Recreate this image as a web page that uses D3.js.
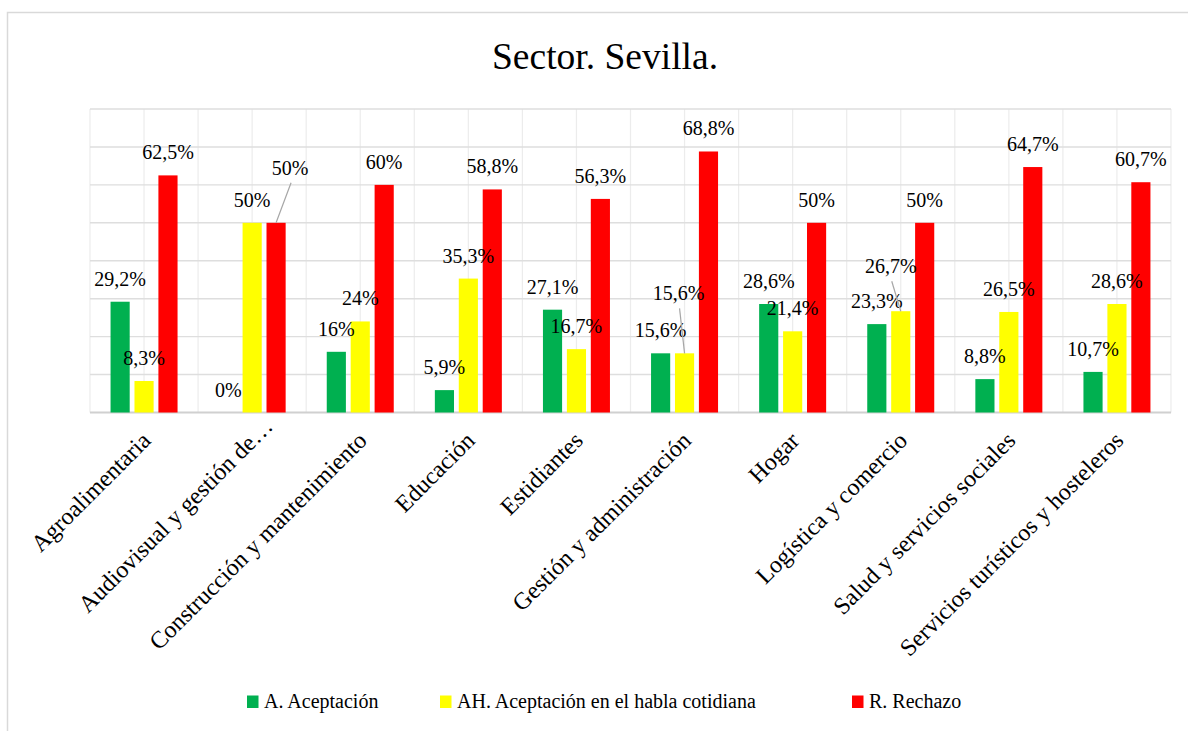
<!DOCTYPE html>
<html>
<head>
<meta charset="utf-8">
<script src="https://cdn.jsdelivr.net/npm/d3@7"></script>
<style>
  html, body { margin: 0; padding: 0; background: #fff; }
  svg { display: block; }
</style>
</head>
<body>
<svg id="chart" width="1188" height="731"></svg>
<script>
const title = "Sector. Sevilla.";
const categories = [
  "Agroalimentaria",
  "Audiovisual y gestión de…",
  "Construcción y mantenimiento",
  "Educación",
  "Estidiantes",
  "Gestión y administración",
  "Hogar",
  "Logística y comercio",
  "Salud y servicios sociales",
  "Servicios turísticos y hosteleros"
];
const seriesNames = ["A. Aceptación", "AH. Aceptación en el habla cotidiana", "R. Rechazo"];
const seriesColors = ["#00B050", "#FFFF00", "#FF0000"];
const aceptacion = [29.2, 0, 16, 5.9, 27.1, 15.6, 28.6, 23.3, 8.8, 10.7];
const hablaCotidiana = [8.3, 50, 24, 35.3, 16.7, 15.6, 21.4, 26.7, 26.5, 28.6];
const rechazo = [62.5, 50, 60, 58.8, 56.3, 68.8, 50, 50, 64.7, 60.7];
const labelText = [
  ["29,2%", "0%", "16%", "5,9%", "27,1%", "15,6%", "28,6%", "23,3%", "8,8%", "10,7%"],
  ["8,3%", "50%", "24%", "35,3%", "16,7%", "15,6%", "21,4%", "26,7%", "26,5%", "28,6%"],
  ["62,5%", "50%", "60%", "58,8%", "56,3%", "68,8%", "50%", "50%", "64,7%", "60,7%"]
];
const yTicks = [0, 10, 20, 30, 40, 50, 60, 70, 80];
// manually moved data labels (series index, category index, dx, dy) -> leader line drawn
const movedLabels = [[2, 1, 14, -32], [1, 5, -6, -37], [1, 7, -10, -22]];

const seriesValues = [aceptacion, hablaCotidiana, rechazo];
const FONT = "'Liberation Serif', 'Times New Roman', serif";

const svg = d3.select("#chart").attr("font-family", FONT);
const W = 1188, H = 731;
const plot = { left: 90, right: 1171, top: 109, bottom: 412.5 };

function addText(parent, x, y, size, anchor, str, rotate) {
  return parent.append("text")
    .attr("transform", `translate(${x},${y})${rotate ? ` rotate(${rotate})` : ""}`)
    .attr("font-family", FONT).attr("font-size", size)
    .attr("text-anchor", anchor).attr("fill", "#000")
    .text(str);
}

// frame
svg.append("path")
  .attr("d", `M7.5,${H} V12.5 H${W}`)
  .attr("fill", "none").attr("stroke", "#d9d9d9").attr("stroke-width", 1.5);

// title
addText(svg, 605, 69, 37.5, "middle", title);

const x0 = d3.scaleBand().domain(d3.range(categories.length))
  .range([plot.left, plot.right]).paddingInner(0).paddingOuter(0);
const groupW = 67;
const x1 = d3.scaleBand().domain([0, 1, 2]).range([0, groupW]).paddingInner(0.2).paddingOuter(0);
const y = d3.scaleLinear().domain([0, 80]).range([plot.bottom, plot.top]);

// vertical gridlines (at category boundaries and centers)
const vLines = d3.range(categories.length * 2 + 1).map(k => plot.left + k * x0.step() / 2);
svg.append("g").selectAll("line").data(vLines).join("line")
  .attr("x1", d => d).attr("x2", d => d)
  .attr("y1", plot.top).attr("y2", plot.bottom)
  .attr("stroke", "#ececec").attr("stroke-width", 1.2);

// horizontal gridlines
svg.append("g").selectAll("line").data(yTicks).join("line")
  .attr("x1", plot.left).attr("x2", plot.right)
  .attr("y1", d => y(d)).attr("y2", d => y(d))
  .attr("stroke", d => d === 0 ? "#d0d0d0" : "#dedede")
  .attr("stroke-width", d => d === 0 ? 1.8 : 1.4);

// bars
const barData = [];
seriesValues.forEach((vals, s) => vals.forEach((v, c) => barData.push({ s, c, v })));
const bx = d => x0(d.c) + (x0.bandwidth() - groupW) / 2 + x1(d.s);
svg.append("g").selectAll("rect").data(barData.filter(d => d.v > 0)).join("rect")
  .attr("x", d => bx(d))
  .attr("width", x1.bandwidth())
  .attr("y", d => y(d.v))
  .attr("height", d => y(0) - y(d.v))
  .attr("fill", d => seriesColors[d.s]);

// data labels
const lblSize = 20;
const labels = svg.append("g");
barData.forEach(d => {
  const cx = bx(d) + x1.bandwidth() / 2;
  const top = y(d.v);
  let lx = cx, ly = top - 16;
  const mv = movedLabels.find(m => m[0] === d.s && m[1] === d.c);
  if (mv) {
    lx += mv[2]; ly += mv[3];
    labels.append("line")
      .attr("x1", lx + 1).attr("y1", ly + 8)
      .attr("x2", cx).attr("y2", top)
      .attr("stroke", "#a6a6a6").attr("stroke-width", 1.2);
  }
  addText(labels, lx, ly, lblSize, "middle", labelText[d.s][d.c]);
});

// category labels, rotated
const tickShift = [0, 20, 0, 0, 0, 0, 0, 0, 0, 0];
const ticks = svg.append("g");
categories.forEach((name, i) => {
  const cx = x0(i) + x0.bandwidth() / 2;
  const a = -Math.PI / 4;
  addText(ticks, cx + 8 + tickShift[i] * Math.cos(a), 442 + tickShift[i] * Math.sin(a), 24, "end", name, -45);
});

// legend (item x positions are layout constants)
const legendX = [247, 440, 852];
const legend = svg.append("g");
seriesNames.forEach((name, i) => {
  const g = legend.append("g").attr("transform", `translate(${legendX[i]},708)`);
  g.append("rect").attr("x", 0).attr("y", -12.5).attr("width", 11.5).attr("height", 12.5)
    .attr("fill", seriesColors[i]);
  addText(g, 17, 0, 20, "start", name);
});
</script>
</body>
</html>
